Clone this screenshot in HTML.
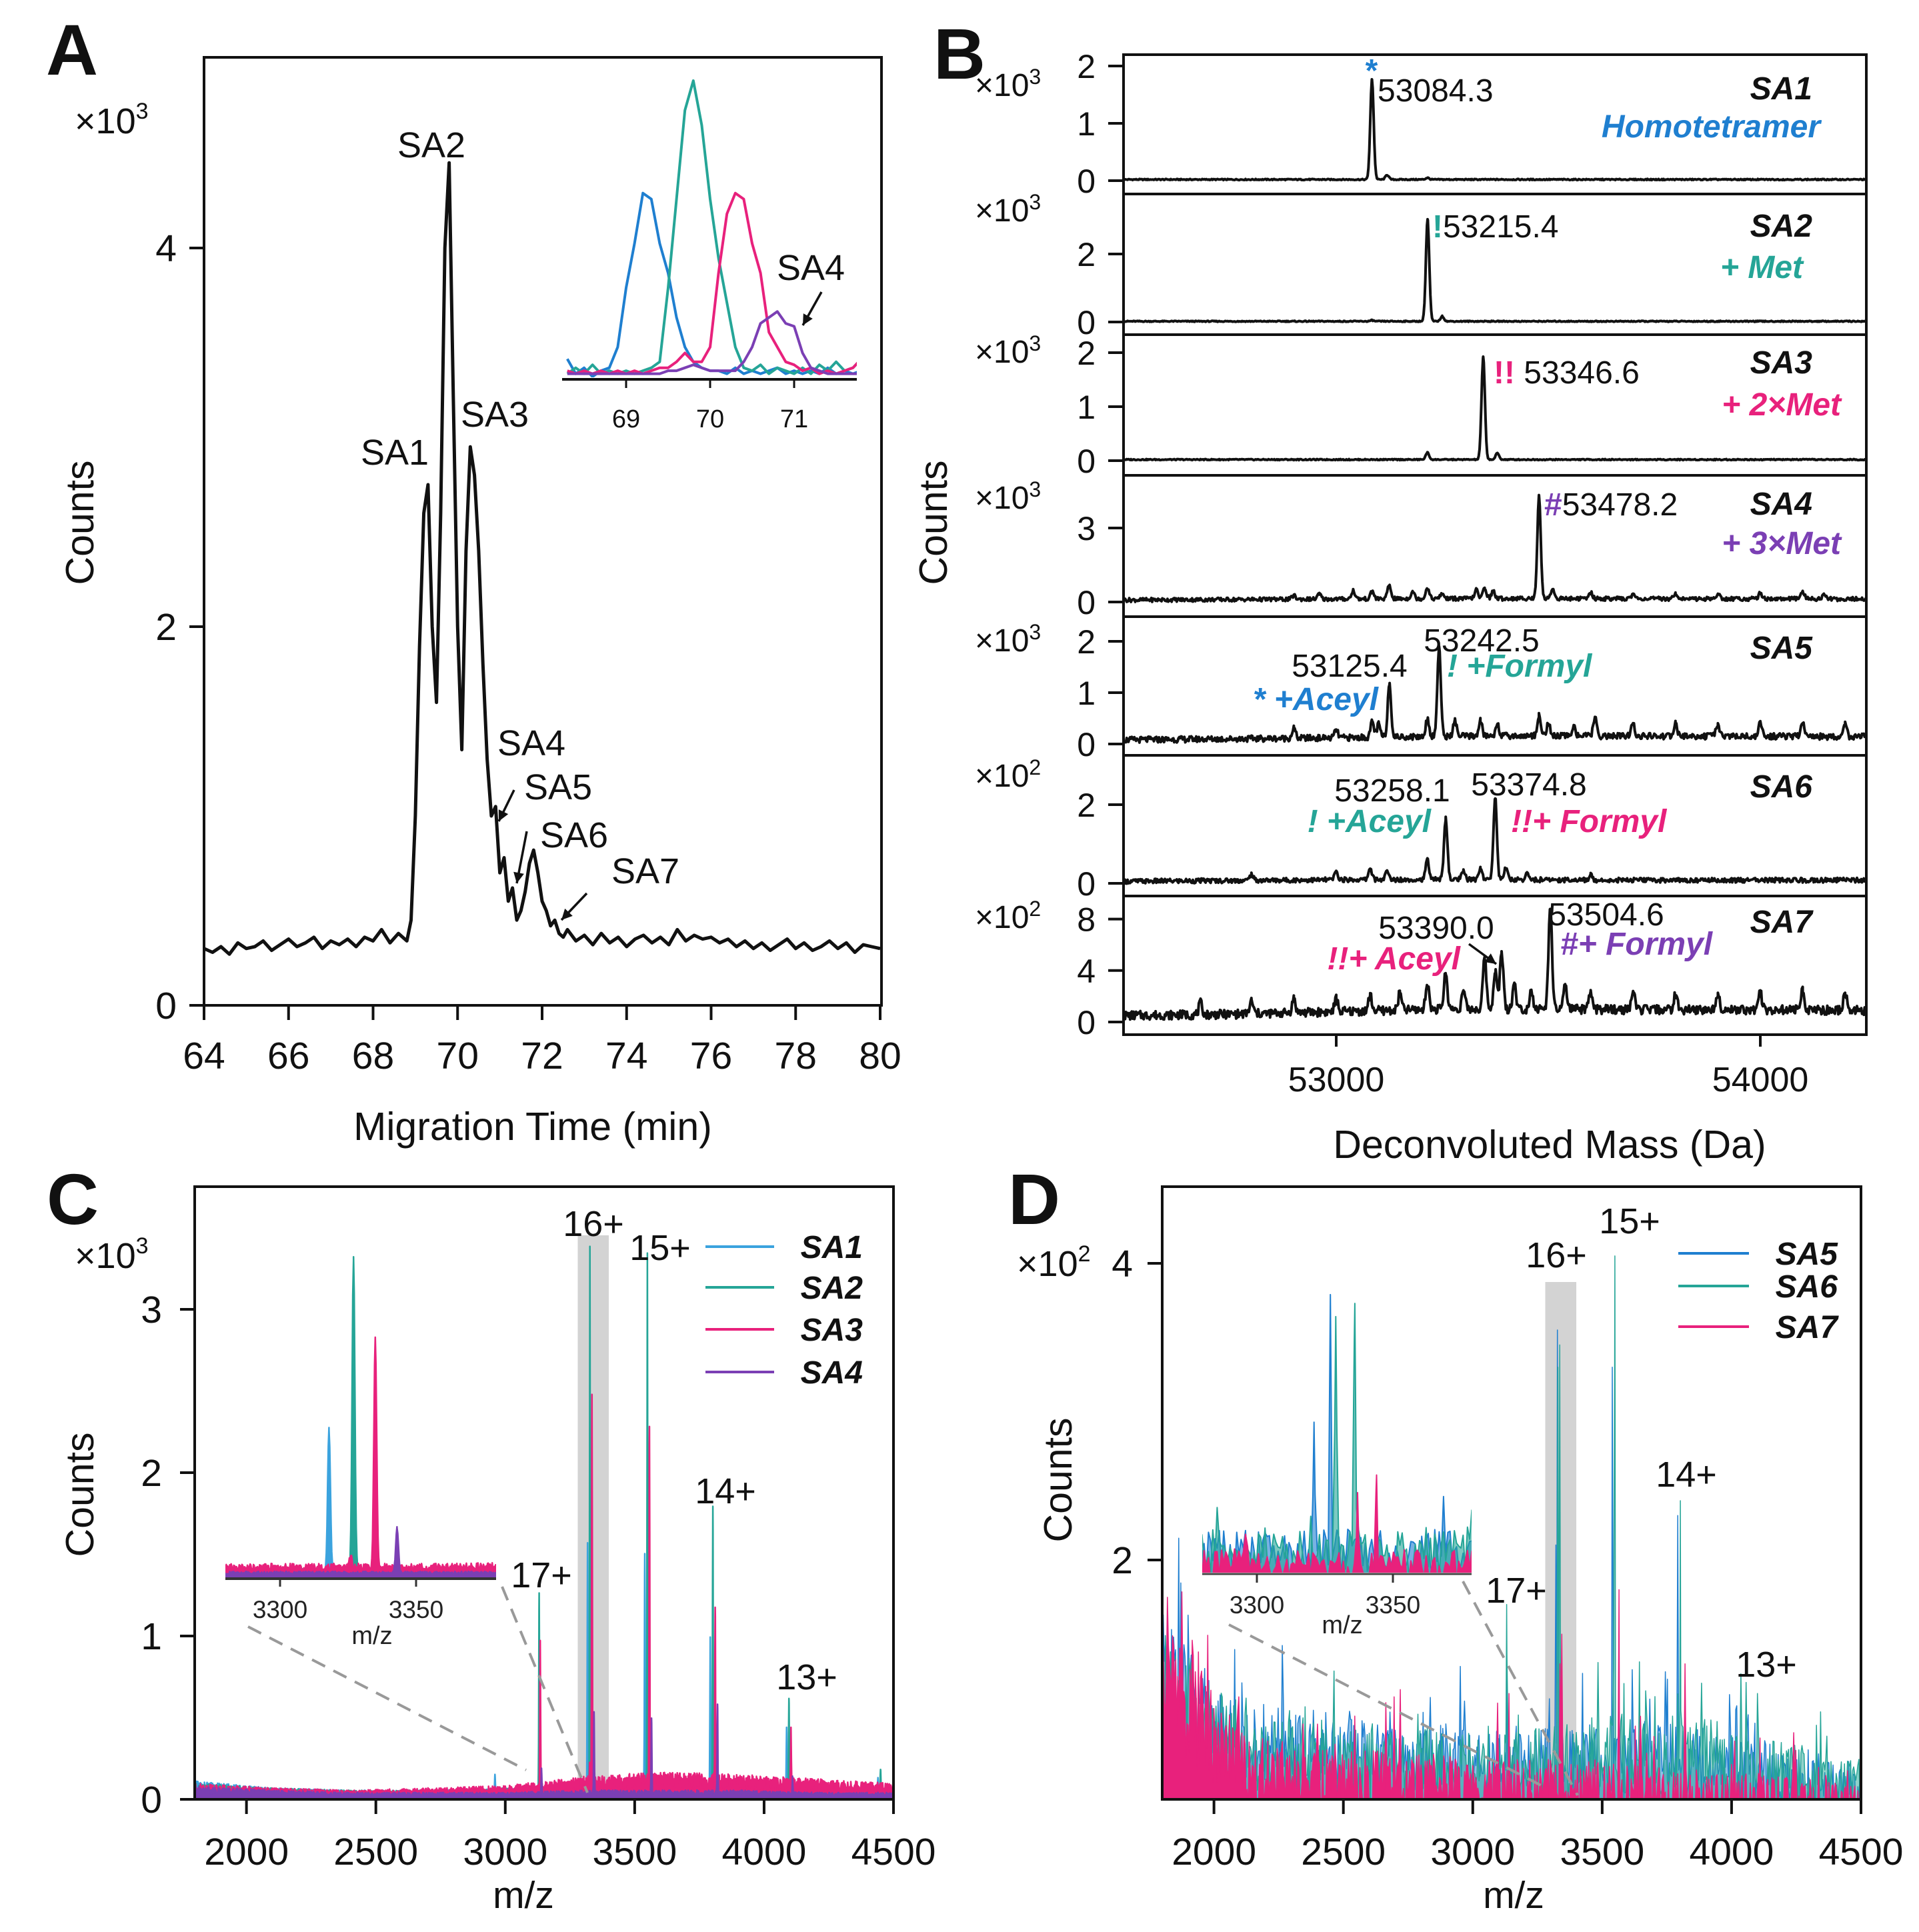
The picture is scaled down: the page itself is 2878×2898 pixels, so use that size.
<!DOCTYPE html>
<html><head><meta charset="utf-8"><title>CE-MS figure</title>
<style>
html,body{margin:0;padding:0;background:#fff;}
svg{display:block;font-family:"Liberation Sans",Arial,sans-serif;}
</style></head>
<body>
<svg id="fig" xmlns="http://www.w3.org/2000/svg" width="2878" height="2898" viewBox="0 0 2878 2898">
<defs>
<clipPath id="clipA"><rect x="306" y="86" width="1016" height="1422"/></clipPath>
<clipPath id="clipAi"><rect x="843" y="100" width="442" height="466"/></clipPath>
<clipPath id="clipC"><rect x="292" y="1780" width="1048" height="919"/></clipPath>
<clipPath id="clipCi"><rect x="338" y="1850" width="406" height="516"/></clipPath>
<clipPath id="clipD"><rect x="1743" y="1780" width="1048" height="919"/></clipPath>
<clipPath id="clipDi"><rect x="1803" y="1850" width="404" height="509"/></clipPath>
</defs>
</svg>
<script>
// ---------------- DATA ----------------
// Panel A electropherogram (x10^3 counts)
const timeA = [64.0,64.2,64.4,64.6,64.8,65.0,65.2,65.4,65.6,65.8,66.0,66.2,66.4,66.6,66.8,67.0,67.2,67.4,67.6,67.8,68.0,68.2,68.4,68.6,68.8,
68.9,69.0,69.1,69.2,69.3,69.4,69.5,69.6,69.7,69.8,69.9,70.0,70.1,70.2,70.3,70.4,70.5,70.6,70.7,70.8,70.9,71.0,71.1,71.2,71.3,71.4,71.5,71.6,71.7,71.8,71.9,72.0,72.1,72.2,72.3,72.4,72.5,72.6,
72.8,73.0,73.2,73.4,73.6,73.8,74.0,74.2,74.4,74.6,74.8,75.0,75.2,75.4,75.6,75.8,76.0,76.2,76.4,76.6,76.8,77.0,77.2,77.4,77.6,77.8,78.0,78.2,78.4,78.6,78.8,79.0,79.2,79.4,79.6,79.8,80.0];
const countA = [0.30,0.28,0.31,0.27,0.33,0.30,0.31,0.34,0.29,0.32,0.35,0.31,0.33,0.36,0.30,0.34,0.32,0.35,0.31,0.36,0.34,0.40,0.33,0.38,0.34,
0.45,1.0,1.9,2.6,2.75,2.0,1.6,2.6,4.0,4.45,3.2,2.0,1.35,2.4,2.95,2.8,2.4,1.8,1.3,1.0,1.05,0.7,0.78,0.55,0.62,0.45,0.5,0.6,0.75,0.82,0.7,0.55,0.5,0.42,0.45,0.38,0.36,0.40,
0.34,0.37,0.32,0.38,0.33,0.36,0.31,0.35,0.37,0.33,0.36,0.32,0.40,0.34,0.37,0.35,0.36,0.33,0.35,0.31,0.34,0.30,0.33,0.29,0.32,0.35,0.30,0.33,0.29,0.31,0.34,0.30,0.33,0.28,0.32,0.31,0.30];
const ticksAx = [64,66,68,70,72,74,76,78,80];
const ticksAy = [0,2,4];
// Inset A extracted ion electropherograms (normalised)
const timeAi = [68.3,68.4,68.5,68.6,68.7,68.8,68.9,69.0,69.1,69.2,69.3,69.4,69.5,69.6,69.7,69.8,69.9,70.0,70.1,70.2,70.3,70.4,70.5,70.6,70.7,70.8,70.9,71.0,71.1,71.2,71.3,71.4,71.5,71.6,71.7,71.8];
const sa1Ai = [0.06,0.01,0.03,0.0,0.02,0.03,0.1,0.3,0.45,0.62,0.6,0.45,0.35,0.2,0.1,0.05,0.03,0.02,0.02,0.01,0.03,0.01,0.02,0.01,0.02,0.03,0.01,0.02,0.01,0.02,0.01,0.03,0.01,0.02,0.01,0.02];
const sa2Ai = [0.01,0.03,0.01,0.04,0.01,0.02,0.01,0.02,0.01,0.02,0.03,0.05,0.3,0.6,0.9,1.0,0.85,0.6,0.4,0.25,0.1,0.03,0.02,0.04,0.01,0.03,0.02,0.01,0.03,0.01,0.04,0.02,0.05,0.02,0.03,0.06];
const sa3Ai = [0.02,0.01,0.02,0.01,0.02,0.01,0.02,0.01,0.02,0.01,0.02,0.03,0.03,0.05,0.08,0.05,0.05,0.1,0.35,0.55,0.62,0.6,0.45,0.35,0.15,0.1,0.05,0.04,0.02,0.03,0.01,0.02,0.01,0.02,0.03,0.06];
const sa4Ai = [0.01,0.01,0.01,0.01,0.01,0.01,0.01,0.01,0.01,0.01,0.01,0.01,0.02,0.02,0.03,0.04,0.03,0.02,0.02,0.02,0.02,0.05,0.1,0.18,0.2,0.22,0.18,0.17,0.08,0.03,0.02,0.01,0.01,0.01,0.01,0.01];
const ticksAi = [69,70,71];
// Panel B deconvoluted spectra
const ticksBx = [53000,54000];
const baseBx = [52500,52750,53000,53250,53500,53750,54000,54250];
const sa1Base = [0.02,0.02,0.02,0.02,0.02,0.02,0.02,0.02];
const sa1Peaks = [[53084.3,1.75],[53120,0.08],[53215,0.03]];
const sa2Base = [0.02,0.02,0.02,0.02,0.02,0.02,0.02,0.02];
const sa2Peaks = [[53215.4,3.0],[53250,0.15],[53084,0.03]];
const sa3Base = [0.02,0.02,0.02,0.02,0.02,0.02,0.02,0.02];
const sa3Peaks = [[53215,0.13],[53346.6,1.9],[53380,0.12]];
const sa4Base = [0.08,0.1,0.12,0.14,0.14,0.13,0.13,0.12];
const sa4Peaks = [[52900,0.15],[52960,0.2],[53040,0.35],[53085,0.3],[53125,0.55],[53180,0.3],[53215,0.45],[53250,0.2],[53330,0.35],[53350,0.45],[53370,0.3],[53478.2,4.2],[53510,0.4],[53600,0.25],[53700,0.2],[53800,0.25],[53900,0.2],[54000,0.25],[54100,0.3],[54150,0.2]];
const sa5Base = [0.08,0.1,0.12,0.15,0.16,0.15,0.15,0.14];
const sa5Peaks = [[52900,0.2],[53000,0.15],[53085,0.3],[53100,0.25],[53125.4,1.05],[53215,0.35],[53242.5,1.75],[53280,0.3],[53340,0.3],[53380,0.25],[53478,0.4],[53500,0.25],[53560,0.2],[53610,0.35],[53700,0.25],[53800,0.25],[53900,0.25],[54000,0.25],[54100,0.3],[54200,0.25]];
const sa6Base = [0.05,0.07,0.09,0.1,0.09,0.08,0.08,0.08];
const sa6Peaks = [[52800,0.15],[53000,0.2],[53080,0.3],[53120,0.2],[53215,0.5],[53258.1,1.55],[53300,0.2],[53340,0.3],[53374.8,2.1],[53400,0.3],[53450,0.15],[53600,0.12]];
const sa7Base = [0.5,0.6,0.8,1.0,1.0,0.95,0.95,0.9];
const sa7Peaks = [[52680,0.9],[52800,1.0],[52900,1.1],[53000,1.0],[53080,1.2],[53150,1.3],[53215,2.0],[53258,2.8],[53300,1.4],[53350,4.0],[53375,3.0],[53390,4.5],[53420,2.0],[53460,1.5],[53504.6,8.1],[53540,1.8],[53600,1.3],[53700,1.4],[53800,1.2],[53900,1.4],[54000,1.3],[54100,1.6],[54200,1.4]];
const ticksB1 = [0,1,2], ticksB2 = [0,2], ticksB3 = [0,1,2], ticksB4 = [0,3], ticksB5 = [0,1,2], ticksB6 = [0,2], ticksB7 = [0,4,8];
// Panel C mass spectra SA1-SA4 (x10^3)
const ticksCx = [2000,2500,3000,3500,4000,4500];
const ticksCy = [0,1,2,3];
const ticksInset = [3300,3350];
const baseMz = [1800,2100,2400,2700,3000,3300,3600,3900,4200,4500];
const cSA1Base = [0.08,0.05,0.04,0.04,0.05,0.06,0.06,0.05,0.04,0.04];
const cSA2Base = [0.07,0.05,0.04,0.04,0.05,0.06,0.07,0.06,0.05,0.04];
const cSA3Base = [0.07,0.05,0.04,0.05,0.06,0.10,0.12,0.11,0.09,0.07];
const cSA4Base = [0.06,0.04,0.03,0.03,0.03,0.04,0.04,0.04,0.03,0.03];
const cSA1Peaks = [[2960,0.1],[3131,0.47],[3318,1.5],[3539,1.45],[3792,0.93],[4087,0.4],[4440,0.1]];
const cSA2Peaks = [[3131,1.2],[3327,3.3],[3549,3.25],[3802,1.75],[4096,0.58],[4450,0.15]];
const cSA3Peaks = [[3135,0.9],[3326,0.12],[3335,2.4],[3557,2.2],[3811,1.1],[4104,0.37]];
const cSA4Peaks = [[3140,0.15],[3343,0.48],[3565,0.45],[3820,0.55],[4110,0.1]];
// Panel D mass spectra SA5-SA7 (x10^2)
const ticksDy = [2,4];
const dSA5Base = [1.5,0.95,0.9,0.85,0.8,0.8,0.85,0.8,0.7,0.6];
const dSA6Base = [1.4,0.9,0.85,0.8,0.8,0.8,0.9,0.85,0.72,0.6];
const dSA7Base = [1.7,0.75,0.68,0.64,0.62,0.6,0.57,0.54,0.5,0.44];
const dSA5Peaks = [[3131,1.2],[3321,2.1],[3327,3.55],[3539,3.3],[3792,2.3],[4090,0.9]];
const dSA6Peaks = [[3131,1.7],[3329,3.3],[3336,3.45],[3549,4.05],[3802,2.4],[4100,1.1]];
const dSA7Peaks = [[3140,1.1],[3337,1.3],[3344,1.5],[3565,1.8],[3820,1.3],[4110,0.8]];

// ---------------- HELPERS ----------------
const NS='http://www.w3.org/2000/svg';
const svg=document.getElementById('fig');
function mk(tag,attrs,parent){const e=document.createElementNS(NS,tag);for(const k in attrs)e.setAttribute(k,attrs[k]);(parent||svg).appendChild(e);return e;}
function tx(x,y,s,attrs,parent){const e=mk('text',Object.assign({x:x,y:y},attrs||{}),parent);e.textContent=s;return e;}
function interp(xs,ys,x){if(x<=xs[0])return ys[0];for(let i=1;i<xs.length;i++){if(x<=xs[i]){const f=(x-xs[i-1])/(xs[i]-xs[i-1]);return ys[i-1]+f*(ys[i]-ys[i-1]);}}return ys[ys.length-1];}
function hj(i,s){const v=Math.sin(i*12.9898+s*78.233)*43758.5453;return v-Math.floor(v);}
function peakSum(m,peaks,sig){let v=0;for(const p of peaks){const d=(m-p[0])/sig;if(Math.abs(d)<5)v+=p[1]*Math.exp(-0.5*d*d);}return v;}
function samples(lo,hi,step,peaks){const a=[];for(let m=lo;m<=hi;m+=step)a.push(m);for(const p of peaks)a.push(p[0]);a.sort((x,y)=>x-y);return a;}
const BLUE='#1f7fd0', TEAL='#25a597', PINK='#e8217c', PURPLE='#7b3fb4', LBLUE='#3ba3de';
const BLK='#111';
function arrow(x1,y1,x2,y2,parent,name){
  const g=mk('g',{},parent);
  
  
  mk('line',{x1:x1,y1:y1,x2:x2,y2:y2,stroke:BLK,'stroke-width':3.5},g);
  const ang=Math.atan2(y2-y1,x2-x1),L=16,W=8;
  const bx=x2-L*Math.cos(ang),by=y2-L*Math.sin(ang);
  mk('polygon',{points:`${x2},${y2} ${bx+W*Math.sin(ang)},${by-W*Math.cos(ang)} ${bx-W*Math.sin(ang)},${by+W*Math.cos(ang)}`,fill:BLK},g);
}

// ---------------- PANEL A ----------------
const xA=t=>306+(t-64)*(1320-306)/16;
const yA=v=>1508-v*284;
const gA=mk('g',{});


const la=tx(69,112,'A',{'font-size':108,'font-weight':'bold',fill:BLK},gA);


const fA=mk('rect',{x:306,y:86,width:1016,height:1422,fill:'none',stroke:BLK,'stroke-width':4},gA);


for(const t of ticksAx){
  const l=mk('line',{x1:xA(t),x2:xA(t),y1:1508,y2:1530,stroke:BLK,'stroke-width':4},gA);
  
  
  const s=tx(xA(t),1603,String(t),{'font-size':57,'text-anchor':'middle',fill:BLK},gA);
  
  
}
for(const v of ticksAy){
  const l=mk('line',{x1:284,x2:306,y1:yA(v),y2:yA(v),stroke:BLK,'stroke-width':4},gA);
  
  
  const s=tx(265,yA(v)+20,String(v),{'font-size':57,'text-anchor':'end',fill:BLK},gA);
  
  
}
const mA=tx(112,200,'×10',{'font-size':54,fill:BLK},gA);


mk('tspan',{dy:-22,'font-size':34},mA).textContent='3';
const xtA=tx(799,1710,'Migration Time (min)',{'font-size':59,'text-anchor':'middle',fill:BLK},gA);


const ytA=tx(0,0,'Counts',{'font-size':59,'text-anchor':'middle',fill:BLK,transform:'translate(140,784) rotate(-90)'},gA);


const trA=mk('polyline',{points:timeA.map((t,i)=>xA(t).toFixed(1)+','+yA(countA[i]).toFixed(1)).join(' '),fill:'none',stroke:BLK,'stroke-width':5,'stroke-linejoin':'round','clip-path':'url(#clipA)'},gA);


const peakLabA=[['SA2',647,236],['SA1',592,697],['SA3',742,640],['SA4',797,1133],['SA5',837,1199],['SA6',861,1271],['SA7',968,1325]];
for(const p of peakLabA){
  const s=tx(p[1],p[2],p[0],{'font-size':54,'text-anchor':'middle',fill:BLK},gA);
  
  
}
arrow(771,1185,748,1232,gA,'arrow-sa4');
arrow(790,1247,775,1325,gA,'arrow-sa5');
arrow(880,1340,842,1380,gA,'arrow-sa7');
// inset A
const xAi=t=>939+(t-69)*126;
const yAi=v=>565-v*444;
const gAi=mk('g',{},gA);


const insetSeries=[[sa1Ai,BLUE,'sa1'],[sa2Ai,TEAL,'sa2'],[sa3Ai,PINK,'sa3'],[sa4Ai,PURPLE,'sa4']];
for(const s of insetSeries){
  const p=mk('polyline',{points:timeAi.map((t,i)=>xAi(t).toFixed(1)+','+yAi(s[0][i]).toFixed(1)).join(' '),fill:'none',stroke:s[1],'stroke-width':4,'stroke-linejoin':'round','clip-path':'url(#clipAi)'},gAi);
  
  
}
const axAi=mk('line',{x1:843,x2:1285,y1:569,y2:569,stroke:BLK,'stroke-width':4},gAi);


for(const t of ticksAi){
  const l=mk('line',{x1:xAi(t),x2:xAi(t),y1:569,y2:582,stroke:BLK,'stroke-width':3},gAi);
  
  
  const s=tx(xAi(t),641,String(t),{'font-size':38,'text-anchor':'middle',fill:BLK},gAi);
  
  
}
const sa4i=tx(1216,420,'SA4',{'font-size':54,'text-anchor':'middle',fill:BLK},gAi);


arrow(1232,438,1204,488,gAi,'inset-sa4-arrow');

// ---------------- PANEL B ----------------
const xB=m=>2004+(m-53000)*0.636;
const gB=mk('g',{});


const lb=tx(1400,118,'B',{'font-size':108,'font-weight':'bold',fill:BLK},gB);


const subs=[
 {n:'sa1',top:82,bot:291,zero:271,ppu:86,base:sa1Base,peaks:sa1Peaks,ticks:ticksB1,amp:0.01,mult:'3',my:144},
 {n:'sa2',top:291,bot:502,zero:483,ppu:51,base:sa2Base,peaks:sa2Peaks,ticks:ticksB2,amp:0.015,mult:'3',my:332},
 {n:'sa3',top:502,bot:713,zero:691,ppu:81,base:sa3Base,peaks:sa3Peaks,ticks:ticksB3,amp:0.01,mult:'3',my:544},
 {n:'sa4',top:713,bot:925,zero:903,ppu:37,base:sa4Base,peaks:sa4Peaks,ticks:ticksB4,amp:0.08,mult:'3',my:763},
 {n:'sa5',top:925,bot:1133,zero:1116,ppu:77,base:sa5Base,peaks:sa5Peaks,ticks:ticksB5,amp:0.06,mult:'3',my:977},
 {n:'sa6',top:1133,bot:1344,zero:1325,ppu:59,base:sa6Base,peaks:sa6Peaks,ticks:ticksB6,amp:0.06,mult:'2',my:1180},
 {n:'sa7',top:1344,bot:1552,zero:1533,ppu:19.3,base:sa7Base,peaks:sa7Peaks,ticks:ticksB7,amp:0.35,mult:'2',my:1392}
];
subs.forEach((sp,k)=>{
  const g=mk('g',{},gB);
  
  
  const cid='clipB'+k;
  const cp=mk('clipPath',{id:cid},svg.querySelector('defs'));
  mk('rect',{x:1685,y:sp.top,width:1114,height:sp.bot-sp.top},cp);
  const fr=mk('rect',{x:1685,y:sp.top,width:1114,height:sp.bot-sp.top,fill:'none',stroke:BLK,'stroke-width':4},g);
  
  
  const ys=v=>sp.zero-v*sp.ppu;
  const pts=[];let i=0;
  for(const m of samples(52500,54250,2,sp.peaks)){
    const v=interp(baseBx,sp.base,m)+sp.amp*(hj(i++,k+1)-0.5)*2+peakSum(m,sp.peaks,4);
    pts.push(xB(m).toFixed(1)+','+ys(v).toFixed(1));
  }
  const pl=mk('polyline',{points:pts.join(' '),fill:'none',stroke:BLK,'stroke-width':4,'stroke-linejoin':'round','clip-path':`url(#${cid})`},g);
  
  
  for(const v of sp.ticks){
    const l=mk('line',{x1:1662,x2:1685,y1:ys(v),y2:ys(v),stroke:BLK,'stroke-width':4},g);
    
    
    const s=tx(1643,ys(v)+18,String(v),{'font-size':50,'text-anchor':'end',fill:BLK},g);
    
    
  }
  const mt=tx(1462,sp.my,'×10',{'font-size':48,fill:BLK},g);
  
  
  mk('tspan',{dy:-18,'font-size':32},mt).textContent=sp.mult;
});
for(const m of ticksBx){
  const l=mk('line',{x1:xB(m),x2:xB(m),y1:1552,y2:1570,stroke:BLK,'stroke-width':4},gB);
  
  
  const s=tx(xB(m),1637,String(m),{'font-size':52,'text-anchor':'middle',fill:BLK},gB);
  
  
}
const xtB=tx(2324,1737,'Deconvoluted Mass (Da)',{'font-size':59,'text-anchor':'middle',fill:BLK},gB);


const ytB=tx(0,0,'Counts',{'font-size':59,'text-anchor':'middle',fill:BLK,transform:'translate(1420,784) rotate(-90)'},gB);


const BI={'font-weight':'bold','font-style':'italic'};
const annB=[
 {n:'star-sa1',x:2057,y:122,a:'middle',parts:[['*',BLUE,{'font-weight':'bold'}]]},
 {n:'mass-sa1',x:2066,y:152,a:'start',parts:[['53084.3',BLK,{}]]},
 {n:'name-sa1',x:2718,y:149,a:'end',parts:[['SA1',BLK,BI]]},
 {n:'mod-sa1',x:2730,y:206,a:'end',parts:[['Homotetramer',BLUE,BI]]},
 {n:'mass-sa2',x:2148,y:356,a:'start',parts:[['!',TEAL,{'font-weight':'bold'}],['53215.4',BLK,{}]]},
 {n:'name-sa2',x:2718,y:355,a:'end',parts:[['SA2',BLK,BI]]},
 {n:'mod-sa2',x:2704,y:417,a:'end',parts:[['+ Met',TEAL,BI]]},
 {n:'mass-sa3',x:2240,y:575,a:'start',parts:[['!!',PINK,{'font-weight':'bold'}],[' 53346.6',BLK,{}]]},
 {n:'name-sa3',x:2718,y:560,a:'end',parts:[['SA3',BLK,BI]]},
 {n:'mod-sa3',x:2761,y:623,a:'end',parts:[['+ 2×Met',PINK,BI]]},
 {n:'mass-sa4',x:2316,y:773,a:'start',parts:[['#',PURPLE,{'font-weight':'bold'}],['53478.2',BLK,{}]]},
 {n:'name-sa4',x:2718,y:772,a:'end',parts:[['SA4',BLK,BI]]},
 {n:'mod-sa4',x:2761,y:831,a:'end',parts:[['+ 3×Met',PURPLE,BI]]},
 {n:'mass-53242',x:2222,y:977,a:'middle',parts:[['53242.5',BLK,{}]]},
 {n:'mod-formyl-sa5',x:2170,y:1015,a:'start',parts:[['! +Formyl',TEAL,BI]]},
 {n:'mass-53125',x:2024,y:1015,a:'middle',parts:[['53125.4',BLK,{}]]},
 {n:'mod-aceyl-sa5',x:2067,y:1065,a:'end',parts:[['* +Aceyl',BLUE,BI]]},
 {n:'name-sa5',x:2718,y:988,a:'end',parts:[['SA5',BLK,BI]]},
 {n:'mass-53258',x:2088,y:1202,a:'middle',parts:[['53258.1',BLK,{}]]},
 {n:'mass-53374',x:2293,y:1193,a:'middle',parts:[['53374.8',BLK,{}]]},
 {n:'mod-aceyl-sa6',x:2146,y:1248,a:'end',parts:[['! +Aceyl',TEAL,BI]]},
 {n:'mod-formyl-sa6',x:2266,y:1248,a:'start',parts:[['!!+ Formyl',PINK,BI]]},
 {n:'name-sa6',x:2718,y:1196,a:'end',parts:[['SA6',BLK,BI]]},
 {n:'mass-53390',x:2154,y:1408,a:'middle',parts:[['53390.0',BLK,{}]]},
 {n:'mass-53504',x:2409,y:1388,a:'middle',parts:[['53504.6',BLK,{}]]},
 {n:'mod-aceyl-sa7',x:2190,y:1454,a:'end',parts:[['!!+ Aceyl',PINK,BI]]},
 {n:'mod-formyl-sa7',x:2340,y:1432,a:'start',parts:[['#+ Formyl',PURPLE,BI]]},
 {n:'name-sa7',x:2718,y:1399,a:'end',parts:[['SA7',BLK,BI]]}
];
for(const a of annB){
  const t=mk('text',{x:a.x,y:a.y,'font-size':48,'text-anchor':a.a},gB);
  
  
  for(const p of a.parts){const ts=mk('tspan',Object.assign({fill:p[1]},p[2]),t);ts.textContent=p[0];}
}
arrow(2203,1416,2244,1446,gB,'arrow-53390');

// ---------------- PANEL C ----------------
const xC=m=>292+(m-1800)*(1340-292)/2700;
const yC=v=>2699-v*245;
const xCi=m=>420+(m-3300)*4.08;
const yCi=v=>2365-v*142;
const gC=mk('g',{});


const lc=tx(70,1836,'C',{'font-size':108,'font-weight':'bold',fill:BLK},gC);


const bandC=mk('rect',{x:xC(3280),y:1853,width:xC(3400)-xC(3280),height:2699-1853,fill:'#d3d3d3'},gC);


function specPath(xf,yf,lo,hi,step,base,peaks,sig,seed,mode,y0){
  const ms=samples(lo,hi,step,peaks);let d='';let i=0;
  for(const m of ms){
    const b=interp(baseMz,base,m);const h1=hj(i,seed),h2=hj(i+7919,seed);i++;
    let v;
    if(mode==='c') v=b*(0.6+0.8*h1)+peakSum(m,peaks,sig);
    else v=Math.max(b*(0.45+0.65*h1)+(h2>0.95?b*0.7*hj(i+31,seed):0),peakSum(m,peaks,sig));
    d+=(d?'L':'M')+xf(m).toFixed(1)+','+yf(v).toFixed(1);
  }
  d+=`L${xf(ms[ms.length-1]).toFixed(1)},${y0}L${xf(ms[0]).toFixed(1)},${y0}Z`;
  return d;
}
const cSeries=[['sa1',cSA1Base,cSA1Peaks,LBLUE],['sa2',cSA2Base,cSA2Peaks,TEAL],['sa3',cSA3Base,cSA3Peaks,PINK],['sa4',cSA4Base,cSA4Peaks,PURPLE]];
cSeries.forEach((s,k)=>{
  const p=mk('path',{d:specPath(xC,yC,1800,4500,1.5,s[1],s[2],1.2,k+11,'c',2720),fill:s[3],stroke:s[3],'stroke-width':2.5,'stroke-linejoin':'round','clip-path':'url(#clipC)'},gC);
  
  
});
const frC=mk('rect',{x:292,y:1780,width:1048,height:919,fill:'none',stroke:BLK,'stroke-width':4},gC);


for(const m of ticksCx){
  const l=mk('line',{x1:xC(m),x2:xC(m),y1:2699,y2:2721,stroke:BLK,'stroke-width':4},gC);
  
  
  const s=tx(xC(m),2797,String(m),{'font-size':57,'text-anchor':'middle',fill:BLK},gC);
  
  
}
for(const v of ticksCy){
  const l=mk('line',{x1:270,x2:292,y1:yC(v),y2:yC(v),stroke:BLK,'stroke-width':4},gC);
  
  
  const s=tx(243,yC(v)+20,String(v),{'font-size':57,'text-anchor':'end',fill:BLK},gC);
  
  
}
const mC=tx(112,1902,'×10',{'font-size':54,fill:BLK},gC);


mk('tspan',{dy:-22,'font-size':34},mC).textContent='3';
const xtC=tx(785,2862,'m/z',{'font-size':57,'text-anchor':'middle',fill:BLK},gC);


const ytC=tx(0,0,'Counts',{'font-size':59,'text-anchor':'middle',fill:BLK,transform:'translate(140,2242) rotate(-90)'},gC);


const chgC=[['16+',890,1854],['15+',990,1890],['14+',1088,2255],['17+',812,2381],['13+',1210,2534]];
for(const c of chgC){
  const s=tx(c[1],c[2],c[0],{'font-size':54,'text-anchor':'middle',fill:BLK},gC);
  
  
}
const legC=[['SA1',LBLUE,1870],['SA2',TEAL,1931],['SA3',PINK,1994],['SA4',PURPLE,2058]];
for(const e of legC){
  const g=mk('g',{},gC);
  
  
  mk('line',{x1:1058,x2:1161,y1:e[2],y2:e[2],stroke:e[1],'stroke-width':4},g);
  tx(1294,e[2]+17,e[0],{'font-size':48,'text-anchor':'end',fill:BLK,'font-weight':'bold','font-style':'italic'},g);
}
const gCi=mk('g',{},gC);


cSeries.forEach((s,k)=>{
  const p=mk('path',{d:specPath(xCi,yCi,3279,3380,0.25,s[1],s[2],0.5,k+21,'c',2370),fill:s[3],stroke:s[3],'stroke-width':2.5,'stroke-linejoin':'round','clip-path':'url(#clipCi)'},gCi);
  
  
});
const axCi=mk('line',{x1:338,x2:744,y1:2368,y2:2368,stroke:'#333','stroke-width':4},gCi);


for(const m of ticksInset){
  const l=mk('line',{x1:xCi(m),x2:xCi(m),y1:2368,y2:2380,stroke:'#333','stroke-width':3},gCi);
  
  
  const s=tx(xCi(m),2427,String(m),{'font-size':37,'text-anchor':'middle',fill:'#222'},gCi);
  
  
}
const mzCi=tx(558,2466,'m/z',{'font-size':38,'text-anchor':'middle',fill:'#222'},gCi);


const dc1=mk('line',{x1:372,y1:2440,x2:789,y2:2655,stroke:'#999','stroke-width':4,'stroke-dasharray':'22,14'},gC);


const dc2=mk('line',{x1:753,y1:2380,x2:881,y2:2689,stroke:'#999','stroke-width':4,'stroke-dasharray':'22,14'},gC);



// ---------------- PANEL D ----------------
const xD=m=>1743+(m-1800)*(2791-1743)/2700;
const yD=v=>2785-v*222.5;
const xDi=m=>1885+(m-3300)*4.08;
const yDi=v=>2359-(v-0.39)*132;
const gD=mk('g',{});


const ld=tx(1512,1836,'D',{'font-size':108,'font-weight':'bold',fill:BLK},gD);


const bandD=mk('rect',{x:xD(3280),y:1923,width:xD(3400)-xD(3280),height:2699-1923,fill:'#d3d3d3'},gD);


const dSeries=[['sa5',dSA5Base,dSA5Peaks,BLUE],['sa6',dSA6Base,dSA6Peaks,TEAL],['sa7',dSA7Base,dSA7Peaks,PINK]];
dSeries.forEach((s,k)=>{
  const p=mk('path',{d:specPath(xD,yD,1800,4500,4,s[1],s[2],1.5,k+31,'d',2720),fill:s[3],'fill-opacity':k<2?0.5:1,stroke:s[3],'stroke-width':1.5,'stroke-linejoin':'round','clip-path':'url(#clipD)'},gD);
  
  
});
const frD=mk('rect',{x:1743,y:1780,width:1048,height:919,fill:'none',stroke:BLK,'stroke-width':4},gD);


for(const m of ticksCx){
  const l=mk('line',{x1:xD(m),x2:xD(m),y1:2699,y2:2721,stroke:BLK,'stroke-width':4},gD);
  
  
  const s=tx(xD(m),2797,String(m),{'font-size':57,'text-anchor':'middle',fill:BLK},gD);
  
  
}
for(const v of ticksDy){
  const l=mk('line',{x1:1721,x2:1743,y1:yD(v),y2:yD(v),stroke:BLK,'stroke-width':4},gD);
  
  
  const s=tx(1699,yD(v)+20,String(v),{'font-size':57,'text-anchor':'end',fill:BLK},gD);
  
  
}
const mD=tx(1525,1914,'×10',{'font-size':54,fill:BLK},gD);


mk('tspan',{dy:-22,'font-size':34},mD).textContent='2';
const xtD=tx(2270,2862,'m/z',{'font-size':57,'text-anchor':'middle',fill:BLK},gD);


const ytD=tx(0,0,'Counts',{'font-size':59,'text-anchor':'middle',fill:BLK,transform:'translate(1607,2220) rotate(-90)'},gD);


const chgD=[['16+',2334,1901],['15+',2444,1850],['14+',2529,2230],['17+',2274,2404],['13+',2649,2515]];
for(const c of chgD){
  const s=tx(c[1],c[2],c[0],{'font-size':54,'text-anchor':'middle',fill:BLK},gD);
  
  
}
const legD=[['SA5',BLUE,1880],['SA6',TEAL,1929],['SA7',PINK,1990]];
for(const e of legD){
  const g=mk('g',{},gD);
  
  
  mk('line',{x1:2517,x2:2623,y1:e[2],y2:e[2],stroke:e[1],'stroke-width':4},g);
  tx(2756,e[2]+17,e[0],{'font-size':48,'text-anchor':'end',fill:BLK,'font-weight':'bold','font-style':'italic'},g);
}
const gDi=mk('g',{},gD);


dSeries.forEach((s,k)=>{
  const p=mk('path',{d:specPath(xDi,yDi,3279,3380,0.8,s[1],s[2],0.4,k+41,'d',2362),fill:s[3],'fill-opacity':k<2?0.6:1,stroke:s[3],'stroke-width':2,'stroke-linejoin':'round','clip-path':'url(#clipDi)'},gDi);
  
  
});
const axDi=mk('line',{x1:1803,x2:2207,y1:2361,y2:2361,stroke:'#444','stroke-width':3},gDi);


for(const m of ticksInset){
  const l=mk('line',{x1:xDi(m),x2:xDi(m),y1:2361,y2:2374,stroke:'#333','stroke-width':3},gDi);
  
  
  const s=tx(xDi(m),2420,String(m),{'font-size':37,'text-anchor':'middle',fill:'#222'},gDi);
  
  
}
const mzDi=tx(2013,2450,'m/z',{'font-size':38,'text-anchor':'middle',fill:'#222'},gDi);


const dd1=mk('line',{x1:1843,y1:2437,x2:2311,y2:2678,stroke:'#999','stroke-width':4,'stroke-dasharray':'22,14'},gD);


const dd2=mk('line',{x1:2194,y1:2372,x2:2366,y2:2693,stroke:'#999','stroke-width':4,'stroke-dasharray':'22,14'},gD);


</script>
</body></html>
